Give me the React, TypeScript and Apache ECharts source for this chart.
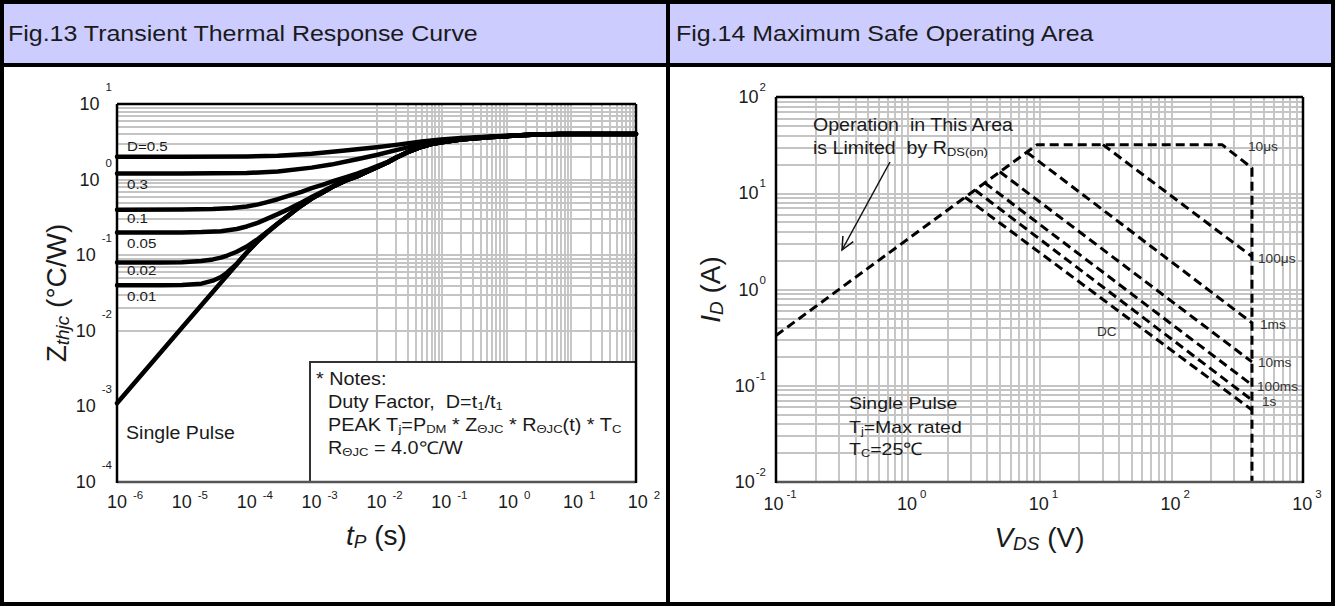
import React, { useEffect, useRef } from "react";
import * as echarts from "echarts";

const FONT = '"Liberation Sans", Arial, Helvetica, sans-serif';
const SX = 1.12;
const INK = "#1a1a1a";

// ---------- Fig.13 : Transient thermal response, [tP (s), Zthjc (°C/W)] ----------
const zD05 = [[1e-6, 2.0], [1e-5, 2.0], [1e-4, 2.02], [3e-4, 2.07], [1e-3, 2.2], [3e-3, 2.4], [1e-2, 2.68], [2e-2, 2.88], [5e-2, 3.2], [0.1, 3.4], [0.2, 3.55], [0.5, 3.7], [1, 3.8], [2, 3.9], [4, 3.98], [7, 4.0], [100, 4.0]];
const zD03 = [[1e-6, 1.2], [1e-5, 1.2], [1e-4, 1.22], [3e-4, 1.28], [1e-3, 1.44], [2e-3, 1.58], [5e-3, 1.86], [1e-2, 2.12], [2e-2, 2.45], [5e-2, 2.95], [0.1, 3.25], [0.2, 3.45], [0.5, 3.65], [1, 3.78], [2, 3.9], [4, 3.98], [7, 4.0], [100, 4.0]];
const zD01 = [[1e-6, 0.4], [1e-5, 0.402], [3e-5, 0.408], [6e-5, 0.42], [1e-4, 0.44], [1.5e-4, 0.47], [2e-4, 0.5], [3e-4, 0.55], [4.5e-4, 0.615], [7e-4, 0.69], [1e-3, 0.77], [1.5e-3, 0.86], [2.2e-3, 0.96], [3.3e-3, 1.07], [5e-3, 1.2], [7e-3, 1.33], [1e-2, 1.5], [1.5e-2, 1.72], [2e-2, 1.96], [3e-2, 2.3], [5e-2, 2.72], [7e-2, 2.95], [0.1, 3.12], [0.2, 3.38], [0.3, 3.5], [0.6, 3.65], [1, 3.75], [2, 3.9], [3, 3.95], [5, 3.99], [7, 4.0], [100, 4.0]];
const zD005 = [[1e-6, 0.2], [1e-5, 0.2], [2e-5, 0.202], [4e-5, 0.208], [7e-5, 0.222], [1e-4, 0.24], [1.5e-4, 0.27], [2e-4, 0.3], [3e-4, 0.35], [4.5e-4, 0.41], [6.6e-4, 0.485], [1e-3, 0.59], [1.5e-3, 0.7], [2.2e-3, 0.83], [3.3e-3, 0.97], [5e-3, 1.1], [7e-3, 1.26], [1e-2, 1.45], [1.5e-2, 1.7], [2e-2, 1.95], [3e-2, 2.3], [5e-2, 2.72], [7e-2, 2.95], [0.1, 3.12], [0.2, 3.38], [0.3, 3.5], [0.6, 3.65], [1, 3.75], [2, 3.9], [3, 3.95], [5, 3.99], [7, 4.0], [100, 4.0]];
const zD002 = [[1e-6, 0.08], [5e-6, 0.0802], [1e-5, 0.0808], [2e-5, 0.084], [3e-5, 0.088], [4e-5, 0.093], [5e-5, 0.099], [7e-5, 0.111], [1e-4, 0.13], [1.5e-4, 0.165], [2e-4, 0.2], [3e-4, 0.263], [4.5e-4, 0.341], [6.6e-4, 0.44], [1e-3, 0.56], [1.5e-3, 0.68], [2.2e-3, 0.82], [3.3e-3, 0.97], [5e-3, 1.1], [7e-3, 1.26], [1e-2, 1.45], [1.5e-2, 1.7], [2e-2, 1.95], [3e-2, 2.3], [5e-2, 2.72], [7e-2, 2.95], [0.1, 3.12], [0.2, 3.38], [0.3, 3.5], [0.6, 3.65], [1, 3.75], [2, 3.9], [3, 3.95], [5, 3.99], [7, 4.0], [100, 4.0]];
const zD001 = [[1e-6, 0.04], [5e-6, 0.0401], [1e-5, 0.0403], [2e-5, 0.042], [3e-5, 0.046], [4e-5, 0.0515], [5e-5, 0.059], [7e-5, 0.077], [1e-4, 0.1085], [1.5e-4, 0.1555], [2e-4, 0.1952], [3e-4, 0.2601], [4.5e-4, 0.34], [6.6e-4, 0.44], [1e-3, 0.56], [1.5e-3, 0.68], [2.2e-3, 0.82], [3.3e-3, 0.97], [5e-3, 1.1], [7e-3, 1.26], [1e-2, 1.45], [1.5e-2, 1.7], [2e-2, 1.95], [3e-2, 2.3], [5e-2, 2.72], [7e-2, 2.95], [0.1, 3.12], [0.2, 3.38], [0.3, 3.5], [0.6, 3.65], [1, 3.75], [2, 3.9], [3, 3.95], [5, 3.99], [7, 4.0], [100, 4.0]];
const zSingle = [[1e-6, 0.0011], [1e-5, 0.011], [1e-4, 0.108], [1.5e-4, 0.155], [2e-4, 0.195], [3e-4, 0.26], [4.5e-4, 0.34], [6.6e-4, 0.44], [1e-3, 0.56], [1.5e-3, 0.68], [2.2e-3, 0.82], [3.3e-3, 0.97], [5e-3, 1.1], [7e-3, 1.26], [1e-2, 1.45], [1.5e-2, 1.7], [2e-2, 1.95], [3e-2, 2.3], [5e-2, 2.72], [7e-2, 2.95], [0.1, 3.12], [0.2, 3.38], [0.3, 3.5], [0.6, 3.65], [1, 3.75], [2, 3.9], [3, 3.95], [5, 3.99], [7, 4.0], [100, 4.0]];
const zCurves = [zD05, zD03, zD01, zD005, zD002, zD001, zSingle];
const dutyLabels = ["D=0.5", "0.3", "0.1", "0.05", "0.02", "0.01"];

// ---------- Fig.14 : Safe operating area, [VDS (V), ID (A)] ----------
const soa10us = [[0.1, 0.333], [8, 26.7], [9.6, 32], [243, 32], [410, 18.3], [410, 0.01]];
const soa100us = [[30.3, 32], [410, 2.2]];
const soa1ms = [[8, 26.7], [410, 0.45]];
const soa10ms = [[5.0, 16.7], [410, 0.177]];
const soa100ms = [[3.85, 12.8], [410, 0.102]];
const soa1s = [[3.24, 10.8], [410, 0.071]];
const soaDC = [[2.72, 9.1], [410, 0.056]];
const soaCurves = [soa10us, soa100us, soa1ms, soa10ms, soa100ms, soa1s, soaDC];
const soaLabels = ["10μs", "100μs", "1ms", "10ms", "100ms", "1s", "DC"];

// axis ranges (decades)
const tpRange = [-6, 2];
const zRange = [-4, 1];
const vdsRange = [-1, 3];
const idRange = [-2, 2];

// layout
const G1 = { left: 117, top: 104, width: 519, height: 378 };
const G2 = { left: 776, top: 97, width: 527, height: 385 };

function logGrid(lo: number, hi: number) {
  const out: number[] = [];
  for (let d = lo; d < hi; d++) {
    for (let k = 1; k <= 9; k++) {
      if (k === 1 && d === lo) continue;
      out.push(k * Math.pow(10, d));
    }
  }
  return out;
}

function expLabel(v: number) {
  const e = Math.round(Math.log10(v));
  return "{b|10}{e|" + e + "}";
}

function gridSeries(xi: number, xr: number[], yr: number[]) {
  return {
    type: "line",
    xAxisIndex: xi,
    yAxisIndex: xi,
    data: [],
    silent: true,
    z: 1,
    markLine: {
      silent: true,
      symbol: ["none", "none"],
      label: { show: false },
      emphasis: { disabled: true },
      lineStyle: { color: "#c4c4c4", width: 1.9, type: "solid" },
      data: [
        ...logGrid(xr[0], xr[1]).map((v) => ({ xAxis: v })),
        ...logGrid(yr[0], yr[1]).map((v) => ({ yAxis: v })),
      ],
    },
  };
}

function T(x: number, y: number, text: string, fontSize: number, extra: any = {}) {
  const sub = { fontSize: fontSize * 0.66, fontFamily: FONT, fill: extra.fill || INK, padding: [fontSize * 0.5, 0, 0, 0] };
  return {
    type: "text",
    x,
    y,
    z: 30,
    scaleX: extra.scaleX ?? SX,
    silent: true,
    style: {
      text,
      fontSize,
      fontFamily: FONT,
      fill: extra.fill || INK,
      align: "left",
      verticalAlign: "middle",
      rich: {
        s: sub,
        n: { fontSize, fontFamily: FONT, fill: extra.fill || INK },
      },
    },
  };
}

function frame(g: any) {
  const x0 = g.left, y0 = g.top, x1 = g.left + g.width, y1 = g.top + g.height;
  return [
    { type: "line", z: 40, silent: true, shape: { x1: x0, y1: y1, x2: x1, y2: y1 }, style: { stroke: "#555", lineWidth: 2.5 } },
    { type: "line", z: 41, silent: true, shape: { x1: x0, y1: y0, x2: x1, y2: y0 }, style: { stroke: "#000", lineWidth: 2.5 } },
    { type: "line", z: 41, silent: true, shape: { x1: x0, y1: y0, x2: x0, y2: y1 + 1 }, style: { stroke: "#000", lineWidth: 2.5 } },
    { type: "line", z: 41, silent: true, shape: { x1: x1, y1: y0, x2: x1, y2: y1 + 1 }, style: { stroke: "#000", lineWidth: 2.5 } },
  ];
}

export default function App() {
  const ref = useRef<HTMLDivElement>(null);

  useEffect(() => {
    if (!ref.current) return;
    const chart = echarts.init(ref.current, null, { renderer: "svg" });

    const axisLabelRich = (supPad: number[], bSize: number) => ({
      b: { fontSize: bSize, fontFamily: FONT, color: INK },
      e: { fontSize: 11.5, fontFamily: FONT, color: INK, padding: supPad },
    });

    const nameRich = {
      m: { fontSize: 28, fontFamily: FONT, color: INK },
      i: { fontSize: 28, fontFamily: FONT, color: INK, fontStyle: "italic" },
      s: { fontSize: 19, fontFamily: FONT, color: INK, fontStyle: "italic", padding: [12, 0, 0, 0] },
    };

    const baseAxis = {
      type: "log",
      logBase: 10,
      splitLine: { show: false },
      minorSplitLine: { show: false },
      axisTick: { show: false },
      axisLine: { show: false },
    };

    const option: any = {
      animation: false,
      backgroundColor: "#ffffff",
      grid: [
        { ...G1, containLabel: false, show: true, backgroundColor: "#fff", borderWidth: 0 },
        { ...G2, containLabel: false, show: true, backgroundColor: "#fff", borderWidth: 0 },
      ],
      xAxis: [
        {
          ...baseAxis,
          gridIndex: 0,
          min: Math.pow(10, tpRange[0]),
          max: Math.pow(10, tpRange[1]),
          axisLabel: { formatter: expLabel, margin: 7, interval: 0, hideOverlap: false, padding: [0, 0, 0, 16], rich: axisLabelRich([0, 0, 13, 6], 18) },
          name: "{i|t}{s|P}{m| (s)}",
          nameLocation: "middle",
          nameGap: 38,
          nameTextStyle: { rich: nameRich },
        },
        {
          ...baseAxis,
          gridIndex: 1,
          min: Math.pow(10, vdsRange[0]),
          max: Math.pow(10, vdsRange[1]),
          axisLabel: { formatter: expLabel, margin: 6, interval: 0, hideOverlap: false, padding: [0, 0, 0, 8], rich: axisLabelRich([0, 0, 20, 3], 18) },
          name: "{i|V}{s|DS}{m| (V)}",
          nameLocation: "middle",
          nameGap: 40,
          nameTextStyle: { rich: nameRich },
        },
      ],
      yAxis: [
        {
          ...baseAxis,
          gridIndex: 0,
          min: Math.pow(10, zRange[0]),
          max: Math.pow(10, zRange[1]),
          axisLabel: { formatter: expLabel, margin: 5, interval: 0, hideOverlap: false, rich: axisLabelRich([0, 0, 34, 6], 18) },
          name: "{m|Z}{s|thjc}{m| (°C/W)}",
          nameLocation: "middle",
          nameRotate: 90,
          nameGap: 40,
          nameTextStyle: { rich: nameRich },
        },
        {
          ...baseAxis,
          gridIndex: 1,
          min: Math.pow(10, idRange[0]),
          max: Math.pow(10, idRange[1]),
          axisLabel: { formatter: expLabel, margin: 10, interval: 0, hideOverlap: false, rich: axisLabelRich([0, 0, 20, 1], 18) },
          name: "{i|I}{s|D}{m| (A)}",
          nameLocation: "middle",
          nameRotate: 90,
          nameGap: 50,
          nameTextStyle: { rich: nameRich },
        },
      ],
      series: [
        gridSeries(0, tpRange, zRange),
        gridSeries(1, vdsRange, idRange),
        ...zCurves.map((d, i) => ({
          type: "line",
          name: i < dutyLabels.length ? dutyLabels[i] : "Single Pulse",
          xAxisIndex: 0,
          yAxisIndex: 0,
          data: d,
          showSymbol: false,
          smooth: false,
          silent: true,
          z: 5,
          lineStyle: { color: "#000", width: 4.5, cap: "round", join: "round" },
        })),
        ...soaCurves.map((d, i) => ({
          type: "line",
          name: soaLabels[i],
          xAxisIndex: 1,
          yAxisIndex: 1,
          data: d,
          showSymbol: false,
          silent: true,
          z: 5,
          lineStyle: { color: "#000", width: 3, type: [9, 5] },
        })),
      ],
      graphic: [
        // header band
        { type: "rect", z: 0, silent: true, shape: { x: 0, y: 0, width: 1335, height: 65 }, style: { fill: "#ccccff" } },
        T(8, 33, "Fig.13 Transient Thermal Response Curve", 22.3),
        T(676, 33, "Fig.14 Maximum Safe Operating Area", 22.3),
        // page borders
        { type: "line", z: 50, silent: true, shape: { x1: 0, y1: 65, x2: 1335, y2: 65 }, style: { stroke: "#000", lineWidth: 4 } },
        { type: "line", z: 50, silent: true, shape: { x1: 668, y1: 0, x2: 668, y2: 606 }, style: { stroke: "#000", lineWidth: 4 } },
        { type: "rect", z: 50, silent: true, shape: { x: 2, y: 2, width: 1331, height: 602 }, style: { fill: "none", stroke: "#000", lineWidth: 4 } },
        // notes box
        { type: "rect", z: 20, silent: true, shape: { x: 310, y: 362, width: 326, height: 120 }, style: { fill: "#fff", stroke: "#333", lineWidth: 2 } },
        ...frame(G1),
        ...frame(G2),
        // Fig.13 labels
        T(127, 146, dutyLabels[0], 13.5),
        T(127, 184, dutyLabels[1], 13.5),
        T(127, 218, dutyLabels[2], 13.5),
        T(127, 243, dutyLabels[3], 13.5),
        T(127, 270, dutyLabels[4], 13.5),
        T(127, 296, dutyLabels[5], 13.5),
        T(126, 433, "Single Pulse", 17.5),
        T(316, 379, "* Notes:", 17.7),
        T(328, 402, "Duty Factor,  D=t{s|1}/t{s|1}", 17.7),
        T(328, 425, "PEAK T{s|j}=P{s|DM} * Z{s|ΘJC} * R{s|ΘJC}(t) * T{s|C}", 17.7),
        T(328, 448, "R{s|ΘJC} = 4.0℃/W", 17.7),
        // Fig.14 labels
        T(813, 125, "Operation  in This Area", 17.5),
        T(813, 148, "is Limited  by R{s|DS(on)}", 17.5),
        { type: "line", z: 30, silent: true, shape: { x1: 890, y1: 162, x2: 842, y2: 250 }, style: { stroke: "#111", lineWidth: 1.5 } },
        { type: "polyline", z: 30, silent: true, shape: { points: [[853.3, 241.7], [842, 250], [842.9, 236]] }, style: { stroke: "#111", lineWidth: 1.5, fill: "none" } },
        T(849, 403, "Single Pulse", 17.4),
        T(849, 427, "T{s|j}=Max rated", 17.4),
        T(849, 449, "T{s|C}=25℃", 17.4),
        T(1248, 147, soaLabels[0], 12.2, { fill: "#333" }),
        T(1258, 259, soaLabels[1], 12.2, { fill: "#333" }),
        T(1260, 325, soaLabels[2], 12.2, { fill: "#333" }),
        T(1258, 363, soaLabels[3], 12.2, { fill: "#333" }),
        T(1257, 387, soaLabels[4], 12.2, { fill: "#333" }),
        T(1262, 402, soaLabels[5], 12.2, { fill: "#333" }),
        T(1097, 332, soaLabels[6], 12.2, { fill: "#333" }),
      ],
    };

    chart.setOption(option);
    return () => chart.dispose();
  }, []);

  return (
    <div
      ref={ref}
      style={{ position: "fixed", left: 0, top: 0, width: 1335, height: 606, background: "#fff" }}
    />
  );
}
